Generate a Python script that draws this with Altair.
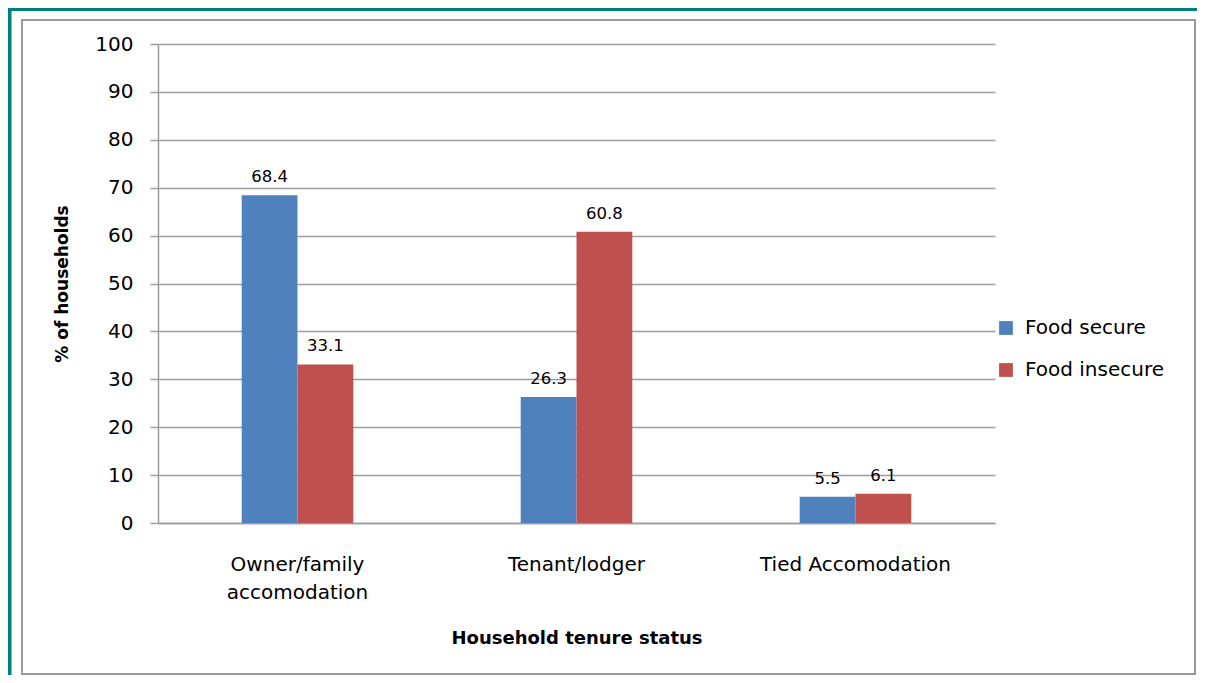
import altair as alt
import pandas as pd

categories = ["Owner/family accomodation", "Tenant/lodger", "Tied Accomodation"]
series = ["Food secure", "Food insecure"]
food_secure = [68.4, 26.3, 5.5]
food_insecure = [33.1, 60.8, 6.1]
colors = ["#4F81BD", "#C0504D"]
y_ticks = [0, 10, 20, 30, 40, 50, 60, 70, 80, 90, 100]

rows = []
for c, a, b in zip(categories, food_secure, food_insecure):
    rows.append({"status": c, "group": series[0], "pct": a})
    rows.append({"status": c, "group": series[1], "pct": b})
df = pd.DataFrame(rows)

FONT = "DejaVu Sans"
GRID = "#9d9d9d"

x_enc = alt.X(
    "status:N",
    sort=categories,
    scale=alt.Scale(paddingInner=0.6, paddingOuter=0.3),
    axis=alt.Axis(
        title="Household tenure status",
        labelAngle=0,
        ticks=False,
        tickSize=0,
        labelPadding=31,
        labelBaseline="top",
        labelFont=FONT,
        labelFontSize=20,
        labelColor="black",
        labelLineHeight=28,
        labelLimit=0,
        labelExpr="datum.value == 'Owner/family accomodation' ? ['Owner/family', 'accomodation'] : datum.value",
        domainColor=GRID,
        domainWidth=1.5,
        titleFont=FONT,
        titleFontSize=18,
        titleFontWeight="bold",
        titleColor="black",
        titleBaseline="alphabetic",
        titleY=120,
    ),
)

y_enc = alt.Y(
    "pct:Q",
    scale=alt.Scale(domain=[0, 100], nice=False),
    axis=alt.Axis(
        values=y_ticks,
        title="% of households",
        grid=True,
        gridColor=GRID,
        gridWidth=1.5,
        domainColor=GRID,
        domainWidth=1.5,
        tickColor=GRID,
        tickWidth=1.5,
        tickSize=8,
        labelPadding=17,
        labelFont=FONT,
        labelFontSize=20,
        labelColor="black",
        titleFont=FONT,
        titleFontSize=17,
        titleFontWeight="bold",
        titleColor="black",
        titleX=-96,
        titleY=239.5,
        titleBaseline="middle",
        titleAlign="center",
    ),
)

color_enc = alt.Color(
    "group:N",
    sort=series,
    scale=alt.Scale(domain=series, range=colors),
    legend=alt.Legend(
        title=None,
        orient="none",
        legendX=838,
        legendY=274,
        symbolType="square",
        symbolSize=190,
        symbolStrokeWidth=0,
        labelFont=FONT,
        labelFontSize=20,
        labelColor="black",
        labelOffset=9,
        rowPadding=22,
    ),
)

base = alt.Chart(df)

bars = base.mark_bar().encode(
    x=x_enc,
    xOffset=alt.XOffset("group:N", sort=series),
    y=y_enc,
    color=color_enc,
)

labels = base.mark_text(
    baseline="alphabetic", dy=-13, font=FONT, fontSize=16.5, color="black"
).encode(
    x=alt.X("status:N", sort=categories),
    xOffset=alt.XOffset("group:N", sort=series),
    y="pct:Q",
    text=alt.Text("pct:Q", format=".1f"),
)

frame_df = pd.DataFrame({"k": [0]})
frame = alt.Chart(frame_df).mark_rect(
    fill="transparent", stroke="#9a9a9a", strokeWidth=2
).encode(
    x=alt.value(-136), x2=alt.value(1037), y=alt.value(-24), y2=alt.value(630)
)
teal_top = alt.Chart(frame_df).mark_rect(fill="#00807A").encode(
    x=alt.value(-150), x2=alt.value(1040), y=alt.value(-36), y2=alt.value(-33)
)
teal_left = alt.Chart(frame_df).mark_rect(fill="#00807A").encode(
    x=alt.value(-150), x2=alt.value(-146.5), y=alt.value(-36), y2=alt.value(640)
)

chart = (
    alt.layer(frame, teal_top, teal_left, bars, labels)
    .properties(
        width=837,
        height=479,
        autosize=alt.AutoSizeParams(type="none"),
        padding={"left": 150, "top": 36, "right": 202, "bottom": 152},
        background="white",
    )
    .configure_view(stroke=None)
)

chart.save("out.html", embed_options={"renderer": "svg", "actions": False})
